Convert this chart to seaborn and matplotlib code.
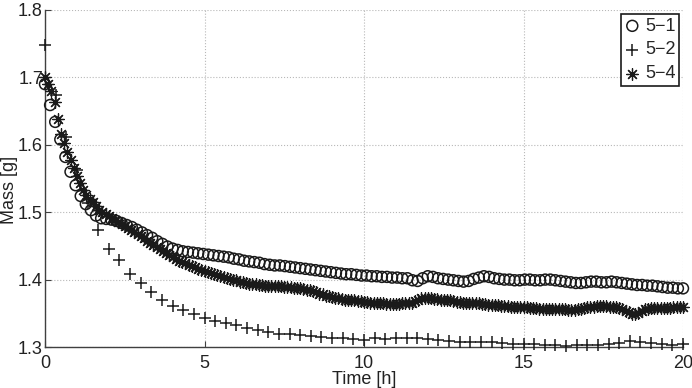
import numpy as np
import matplotlib
matplotlib.use('Agg')
import matplotlib.pyplot as plt
import seaborn as sns

# sample 5-1, one reading about every 0.16 h
mass_51 = [
    1.690, 1.659, 1.634, 1.608, 1.582, 1.560, 1.540, 1.524, 1.512, 1.503,
    1.495, 1.491, 1.490, 1.489, 1.487, 1.484, 1.481, 1.478, 1.474, 1.470,
    1.466, 1.462, 1.457, 1.453, 1.449, 1.446, 1.444, 1.442, 1.441, 1.440,
    1.439, 1.438, 1.437, 1.436, 1.435, 1.434, 1.433, 1.431, 1.430, 1.428,
    1.427, 1.426, 1.425, 1.423, 1.422, 1.421, 1.421, 1.420, 1.419, 1.418,
    1.417, 1.416, 1.415, 1.414, 1.413, 1.412, 1.411, 1.410, 1.409, 1.408,
    1.408, 1.407, 1.406, 1.406, 1.405, 1.405, 1.404, 1.404, 1.403, 1.403,
    1.402, 1.402, 1.399, 1.398, 1.402, 1.405, 1.404, 1.402, 1.401, 1.400,
    1.399, 1.398, 1.397, 1.398, 1.401, 1.403, 1.405, 1.404, 1.402, 1.401,
    1.400, 1.400, 1.399, 1.399, 1.400, 1.400, 1.399, 1.399, 1.400, 1.400,
    1.399, 1.398, 1.397, 1.396, 1.395, 1.395, 1.396, 1.397, 1.397, 1.396,
    1.396, 1.397, 1.396, 1.395, 1.394, 1.393, 1.392, 1.392, 1.391, 1.391,
    1.390, 1.389, 1.388, 1.388, 1.387, 1.387,
]

# sample 5-2, one reading every 20 min
mass_52 = [
    1.748, 1.674, 1.611, 1.563, 1.514, 1.474, 1.446, 1.429, 1.408, 1.395,
    1.381, 1.369, 1.361, 1.355, 1.349, 1.343, 1.338, 1.336, 1.333, 1.328,
    1.325, 1.322, 1.320, 1.319, 1.318, 1.316, 1.315, 1.313, 1.313, 1.312,
    1.311, 1.313, 1.312, 1.314, 1.313, 1.314, 1.312, 1.311, 1.309, 1.308,
    1.308, 1.307, 1.307, 1.306, 1.305, 1.305, 1.304, 1.303, 1.303, 1.302,
    1.303, 1.303, 1.303, 1.304, 1.306, 1.309, 1.308, 1.306, 1.304, 1.303,
    1.304,
]

# sample 5-4, one reading every 0.1 h
mass_54 = [
    1.701, 1.690, 1.680, 1.663, 1.638, 1.616, 1.602, 1.590, 1.578, 1.565,
    1.553, 1.543, 1.533, 1.526, 1.520, 1.515, 1.509, 1.503, 1.500, 1.497,
    1.494, 1.491, 1.488, 1.485, 1.482, 1.479, 1.476, 1.473, 1.470, 1.467,
    1.464, 1.461, 1.458, 1.455, 1.452, 1.449, 1.445, 1.442, 1.439, 1.436,
    1.433, 1.431, 1.428, 1.426, 1.424, 1.422, 1.420, 1.418, 1.416, 1.414,
    1.413, 1.411, 1.410, 1.408, 1.407, 1.405, 1.404, 1.403, 1.401, 1.400,
    1.399, 1.397, 1.396, 1.395, 1.394, 1.393, 1.393, 1.392, 1.392, 1.391,
    1.391, 1.391, 1.390, 1.390, 1.390, 1.389, 1.389, 1.389, 1.388, 1.388,
    1.387, 1.386, 1.385, 1.384, 1.383, 1.381, 1.379, 1.378, 1.376, 1.375,
    1.374, 1.373, 1.372, 1.371, 1.370, 1.370, 1.369, 1.369, 1.368, 1.368,
    1.367, 1.367, 1.366, 1.366, 1.365, 1.365, 1.365, 1.364, 1.364, 1.364,
    1.364, 1.364, 1.365, 1.365, 1.365, 1.366, 1.368, 1.370, 1.372, 1.373,
    1.373, 1.372, 1.371, 1.371, 1.370, 1.370, 1.369, 1.369, 1.368, 1.367,
    1.367, 1.366, 1.365, 1.366, 1.366, 1.365, 1.365, 1.364, 1.364, 1.363,
    1.363, 1.362, 1.362, 1.361, 1.361, 1.361, 1.360, 1.360, 1.360, 1.359,
    1.359, 1.359, 1.358, 1.358, 1.358, 1.357, 1.357, 1.357, 1.357, 1.356,
    1.356, 1.356, 1.356, 1.356, 1.355, 1.355, 1.355, 1.356, 1.357, 1.358,
    1.359, 1.360, 1.360, 1.361, 1.361, 1.361, 1.361, 1.360, 1.360, 1.359,
    1.358, 1.356, 1.354, 1.352, 1.349, 1.349, 1.351, 1.354, 1.356, 1.357,
    1.358, 1.358, 1.358, 1.358, 1.358, 1.358, 1.358, 1.359, 1.359, 1.359,
    1.359,
]

labels = ['5\u22121', '5\u22122', '5\u22124']
x_ticks = [0, 5, 10, 15, 20]
y_ticks = [1.3, 1.4, 1.5, 1.6, 1.7, 1.8]

# readings are evenly spaced over the 20 h run
time_51 = np.linspace(0, 20, len(mass_51))
time_52 = np.linspace(0, 20, len(mass_52))
time_54 = np.linspace(0, 20, len(mass_54))

sns.set_theme(style='white')
plt.rcParams['font.family'] = ['Liberation Sans', 'DejaVu Sans']

fig = plt.figure(figsize=(6.92, 3.88), dpi=100)
ax = fig.add_axes([45 / 692, 41 / 388, 638 / 692, 337 / 388])

sns.scatterplot(x=time_51, y=mass_51, ax=ax, marker='o', s=62, color='k',
                facecolor='none', edgecolor='k', linewidth=1.1,
                label=labels[0], clip_on=False, zorder=3)
sns.scatterplot(x=time_52, y=mass_52, ax=ax, marker='+', s=80, color='k',
                linewidth=1.1, label=labels[1], clip_on=False, zorder=3)
sns.scatterplot(x=time_54, y=mass_54, ax=ax, marker=(8, 2, 0), s=70, color='k',
                linewidth=0.9, label=labels[2], clip_on=False, zorder=3)

ax.set_xlim(0, 20)
ax.set_ylim(1.3, 1.8)
ax.set_xticks(x_ticks)
ax.set_yticks(y_ticks)
ax.set_xticklabels([str(t) for t in x_ticks])
ax.set_yticklabels([f'{t:.1f}' for t in y_ticks])

ax.grid(True, linestyle=':', color='#b8b8b8', linewidth=0.8)
ax.set_axisbelow(True)
for side in ['top', 'right']:
    ax.spines[side].set_visible(False)
for side in ['left', 'bottom']:
    ax.spines[side].set_color('#404040')
    ax.spines[side].set_linewidth(1.0)

ax.tick_params(axis='both', direction='in', length=4, width=0.8, colors='#404040',
               labelcolor='#222222', labelsize=13, left=True, bottom=True)
ax.tick_params(axis='x', pad=6)
ax.tick_params(axis='y', pad=1.5)

ax.set_xlabel('Time [h]', fontsize=13, color='#222222')
ax.set_ylabel('Mass [g]', fontsize=13, color='#222222')
ax.xaxis.set_label_coords(0.5, -0.072)
# nudged right just enough that the rotated label stays on the canvas
ax.yaxis.set_label_coords(-0.043, 0.466)

leg = ax.legend(loc='upper right', fontsize=13, frameon=True, fancybox=False,
                edgecolor='k', framealpha=1, borderpad=0.22, labelspacing=0.38,
                handlelength=0.8, handletextpad=0.3, borderaxespad=0.2,
                scatterpoints=1)
leg.get_frame().set_linewidth(1.2)

fig.savefig('out.png', dpi=100)
